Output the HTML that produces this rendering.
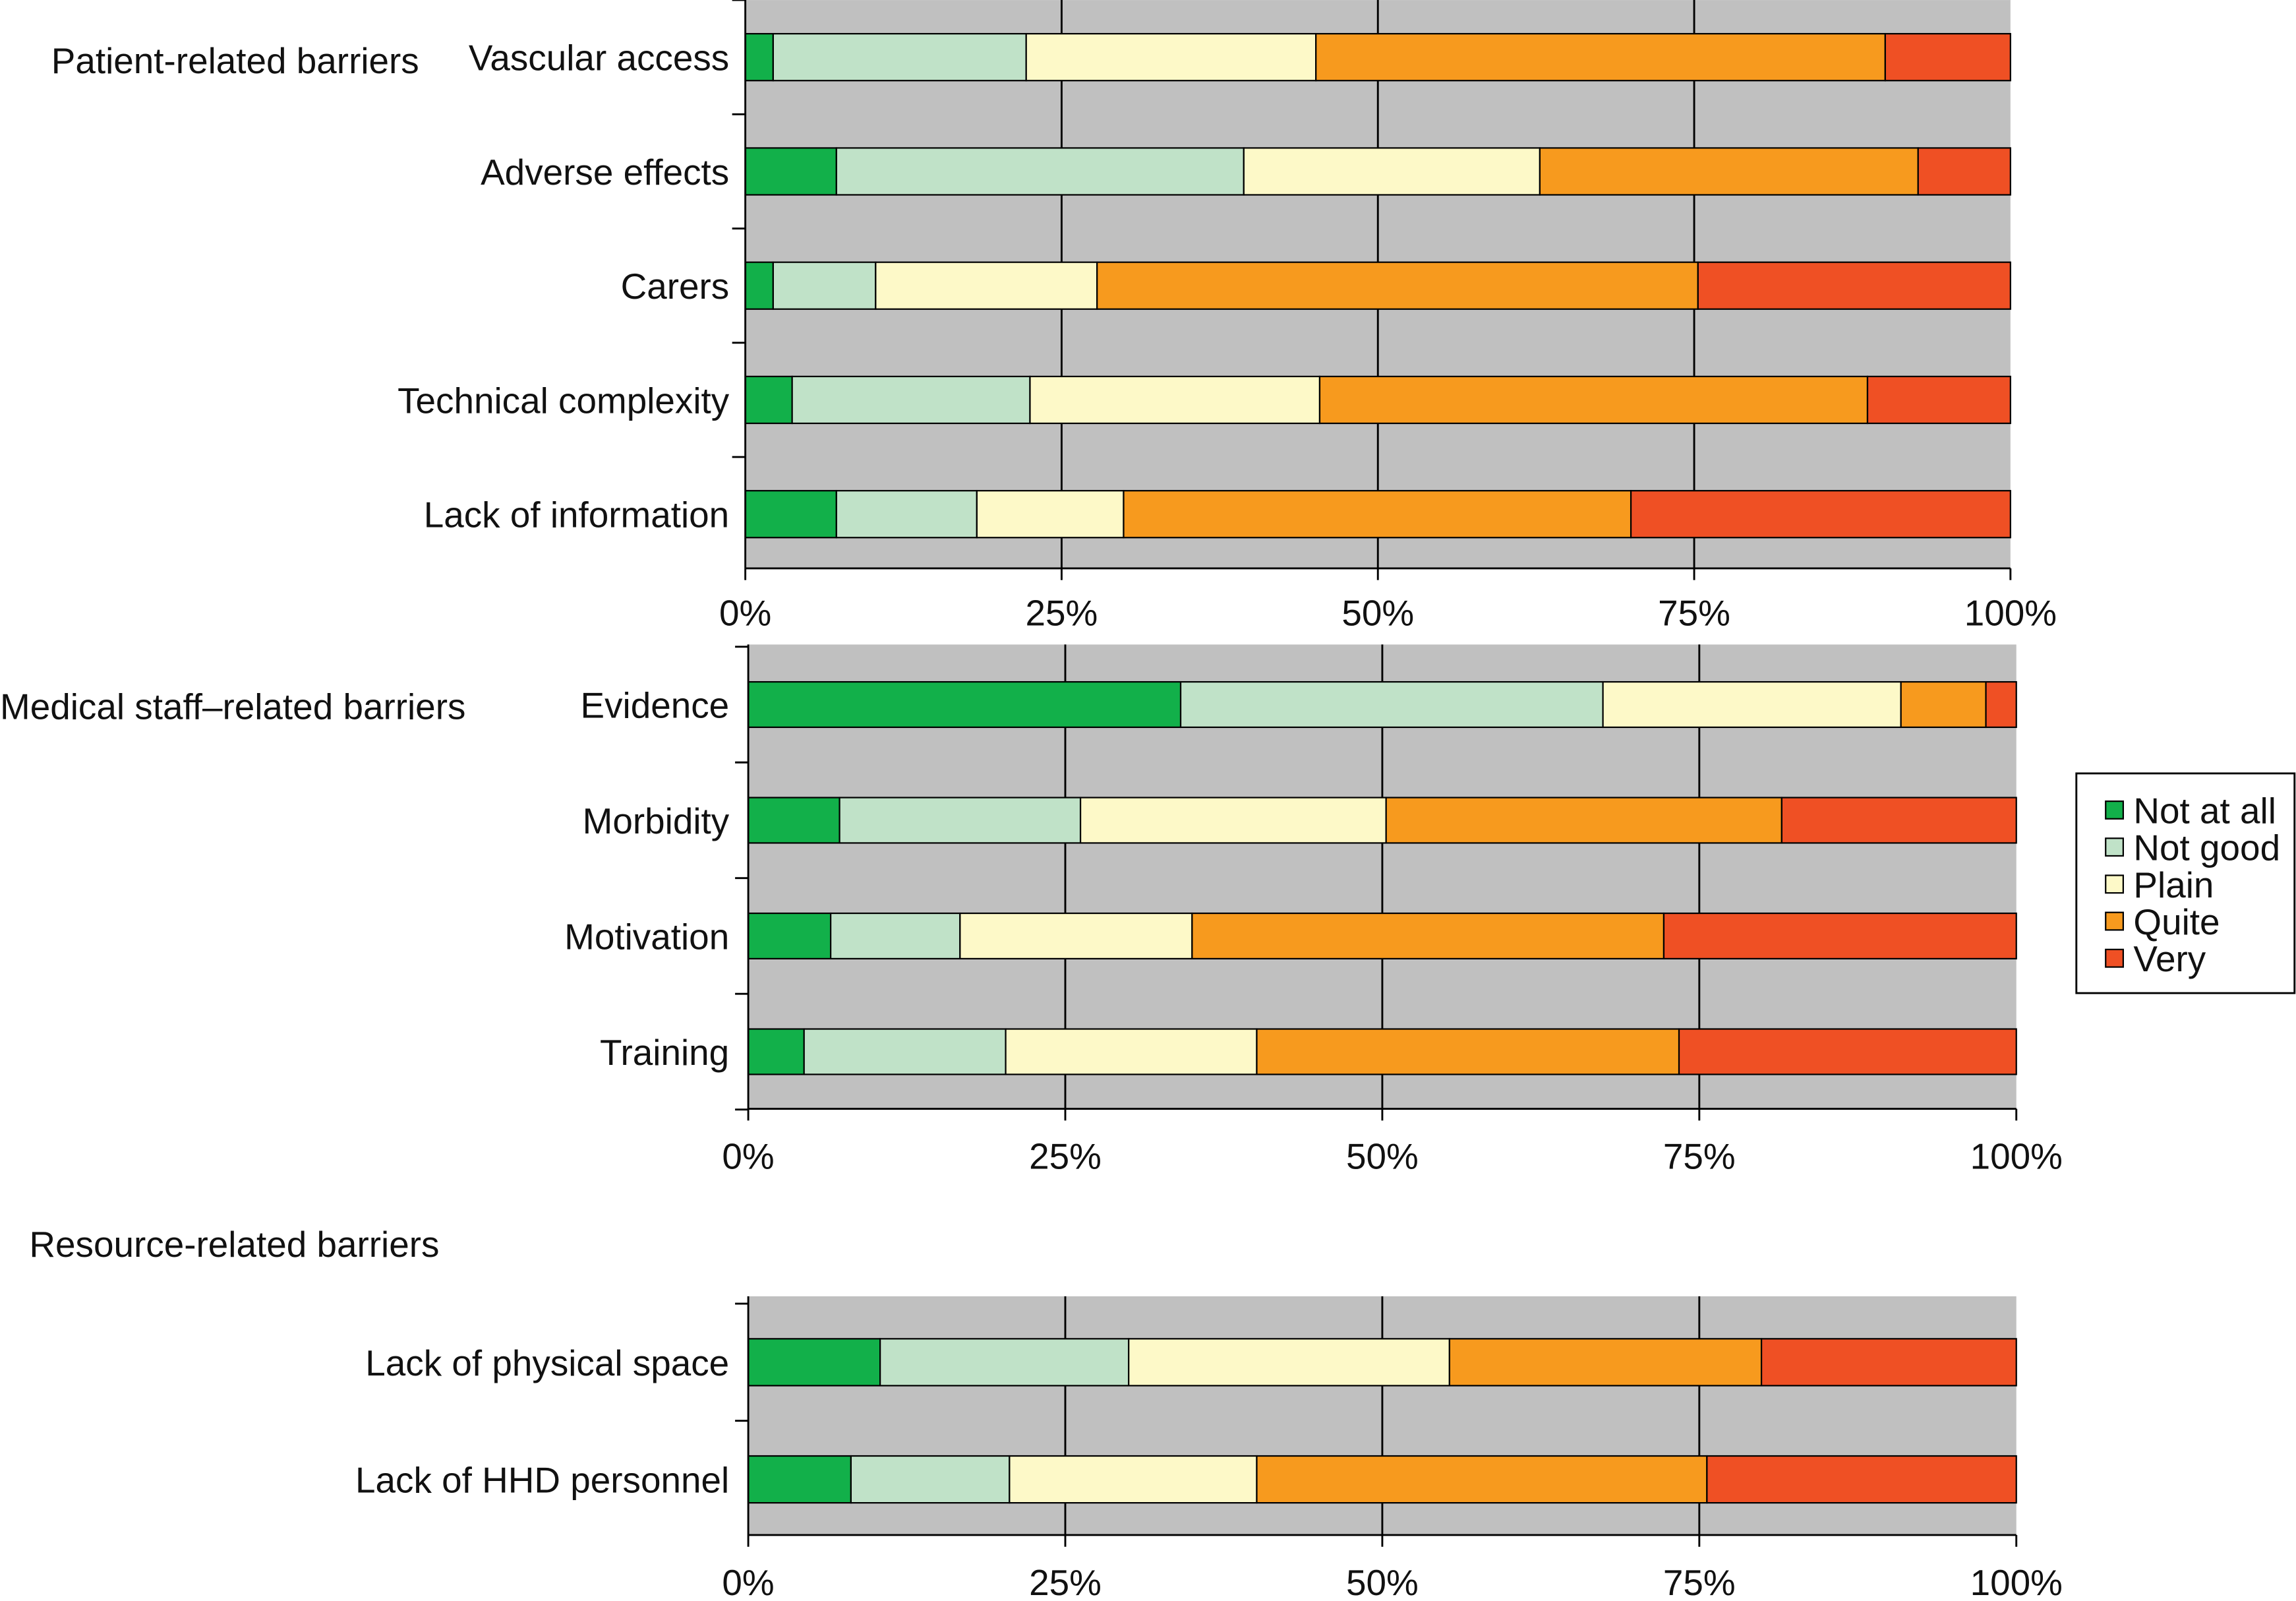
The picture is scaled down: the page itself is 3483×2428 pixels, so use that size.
<!DOCTYPE html>
<html><head><meta charset="utf-8">
<style>html,body{margin:0;padding:0;background:#fff}svg{display:block}text{font-family:"Liberation Sans",sans-serif}</style>
</head><body>
<svg id="chart" width="3483" height="2428" viewBox="0 0 1568 1093" xmlns="http://www.w3.org/2000/svg"></svg>
<script>
const seriesNames = ["Not at all","Not good","Plain","Quite","Very"];
const seriesColors = ["#12b04a","#c0e2c8","#fdf9c8","#f79a1e","#ef5024"];
const tickLabels = ["0%","25%","50%","75%","100%"];
const groupLabels = ["Patient-related barriers","Medical staff\u2013related barriers","Resource-related barriers"];
const cats1 = ["Vascular access","Adverse effects","Carers","Technical complexity","Lack of information"];
const vals1 = [[2.2,20,22.9,45,9.9],[7.2,32.2,23.4,29.9,7.3],[2.2,8.1,17.5,47.5,24.7],[3.7,18.8,22.9,43.3,11.3],[7.2,11.1,11.6,40.1,30.0]];
const cats2 = ["Evidence","Morbidity","Motivation","Training"];
const vals2 = [[34.1,33.3,23.5,6.7,2.4],[7.2,19,24.1,31.2,18.5],[6.5,10.2,18.3,37.2,27.8],[4.4,15.9,19.8,33.3,26.6]];
const cats3 = ["Lack of physical space","Lack of HHD personnel"];
const vals3 = [[10.4,19.6,25.3,24.6,20.1],[8.1,12.5,19.5,35.5,24.4]];

const svg = document.getElementById('chart');
const NS = "http://www.w3.org/2000/svg";
function mk(tag, attrs, name, inter){
  const e = document.createElementNS(NS, tag);
  for (const k in attrs) e.setAttribute(k, attrs[k]);
  
  
  svg.appendChild(e); return e;
}
function txt(x,y,s,anchor,name){
  const t = mk('text',{x:x,y:y,'font-size':24.7,'text-anchor':anchor,fill:'#111'},name,false);
  t.textContent = s; return t;
}
function panel(cfg, cats, vals, pid){
  const x0 = cfg.x0, x1 = cfg.x1, top = cfg.top, bottom = cfg.bottom;
  const xs = v => x0 + (x1 - x0) * v / 100;
  mk('rect',{x:x0,y:top,width:x1-x0,height:bottom-top,fill:'#c0c0c0'},pid+'-plot-area',false);
  for (let i=1;i<4;i++){
    mk('line',{x1:xs(i*25),x2:xs(i*25),y1:top,y2:bottom,stroke:'#000','stroke-width':1.3},pid+'-gridline',false);
  }
  cats.forEach((c,i)=>{
    const cy = cfg.firstY + i*cfg.step;
    let acc = 0;
    vals[i].forEach((v,j)=>{
      mk('rect',{x:xs(acc),y:cy-cfg.bh/2,width:xs(acc+v)-xs(acc),height:cfg.bh,fill:seriesColors[j],stroke:'#000','stroke-width':1},pid+'-bar-'+c.toLowerCase().replace(/[^a-z]+/g,'-')+'-'+j,true);
      acc += v;
    });
    txt(498, cy+9, c, 'end', pid+'-category-label');
  });
  mk('line',{x1:x0,x2:x0,y1:top,y2:bottom,stroke:'#000','stroke-width':1.3},pid+'-y-axis',false);
  for (let i=0;i<=cats.length;i++){
    const y = cfg.firstY - cfg.step/2 + i*cfg.step;
    if (y>=top-1 && y<=bottom+1) mk('line',{x1:x0-9,x2:x0,y1:y,y2:y,stroke:'#000','stroke-width':1.3},pid+'-y-tick',false);
  }
  mk('line',{x1:x0,x2:x1,y1:bottom,y2:bottom,stroke:'#000','stroke-width':1.3},pid+'-x-axis',false);
  tickLabels.forEach((t,i)=>{
    mk('line',{x1:xs(i*25),x2:xs(i*25),y1:bottom,y2:bottom+8,stroke:'#000','stroke-width':1.3},pid+'-x-tick',false);
    txt(xs(i*25), cfg.labY, t, 'middle', pid+'-x-tick-label');
  });
}
panel({x0:509,x1:1373,top:0,bottom:388,firstY:39,step:78,bh:32,labY:427},cats1,vals1,'patient');
panel({x0:511,x1:1377,top:440,bottom:757,firstY:481,step:79,bh:31,labY:798},cats2,vals2,'staff');
panel({x0:511,x1:1377,top:885,bottom:1048,firstY:930,step:80,bh:32,labY:1089},cats3,vals3,'resource');
txt(35,50,groupLabels[0],'start','group-label-patient');
txt(0,491,groupLabels[1],'start','group-label-staff');
txt(20,858,groupLabels[2],'start','group-label-resource');
mk('rect',{x:1418,y:528,width:149,height:150,fill:'#fff',stroke:'#000','stroke-width':1.3},'legend-box',false);
seriesNames.forEach((n,i)=>{
  const y = 553 + i*25.3;
  mk('rect',{x:1438,y:y-6,width:12,height:12,fill:seriesColors[i],stroke:'#000','stroke-width':1},'legend-swatch',false);
  txt(1457,y+9,n,'start','legend-entry');
});
</script>
</body></html>
